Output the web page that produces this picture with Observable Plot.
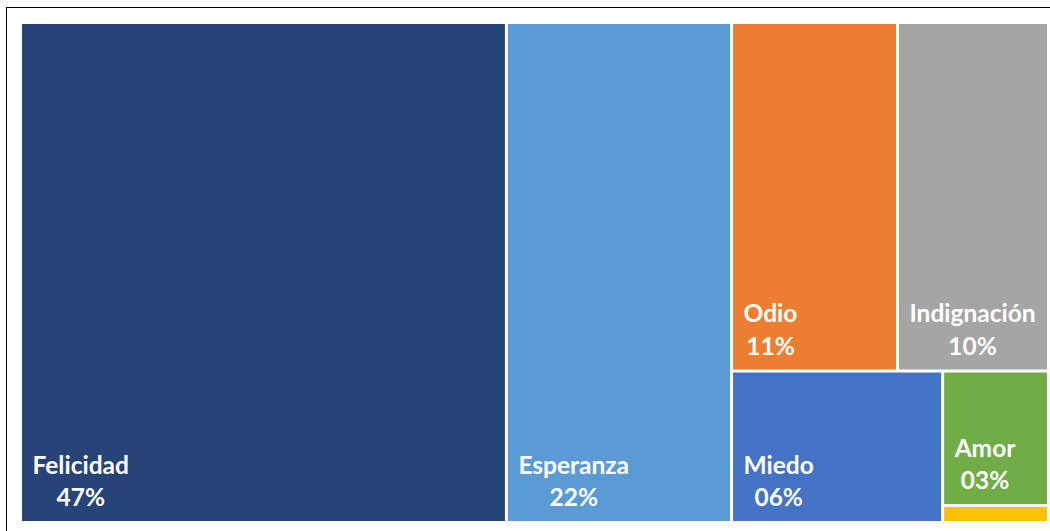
<!DOCTYPE html>
<html>
<head>
<meta charset="utf-8">
<script src="https://cdn.jsdelivr.net/npm/d3@7"></script>
<script src="https://cdn.jsdelivr.net/npm/@observablehq/plot@0.6"></script>
<style>
  html, body { margin: 0; padding: 0; background: #fff; overflow: hidden; }
  #wrap { position: relative; width: 1050px; height: 531px; }
  #frame { position: absolute; left: 5.5px; top: 7.2px; width: 2000px; height: 2000px;
           border-top: 1.6px solid #000; border-left: 1.6px solid #000; pointer-events: none; }
</style>
</head>
<body>
<div id="wrap"><div id="frame"></div></div>
<script>
// ---- data ----
const names  = ["Felicidad", "Esperanza", "Odio", "Indignación", "Miedo", "Amor", "Otros"];
const values = [47.27, 21.9, 11.25, 10.24, 6.22, 2.77, 0.35];
const colors = ["#264478", "#5B9BD5", "#ED7D31", "#A5A5A5", "#4472C4", "#70AD47", "#FFC000"];
const showLabel = [true, true, true, true, true, true, false];

// nesting of the tiles (indices into the arrays above)
const nesting = [0, 1, [[2, 3], [4, [5, 6]]]];

// ---- layout ----
const width = 1050, height = 531;
const mL = 20.5, mT = 22.5, mR = 1.5, mB = 8.5;
const W = width - mL - mR, H = height - mT - mB;

function build(n) {
  if (Array.isArray(n)) return {children: n.map(build)};
  return {name: names[n], value: values[n], label: showLabel[n]};
}
const root = d3.hierarchy(build(nesting)).sum(d => d.value || 0);
d3.treemap().tile(d3.treemapSliceDice).size([W, H]).round(false)(root);
const leaves = root.leaves();

const fontSize = 24.5;
const fontFamily = "Lato";
const ctx = document.createElement("canvas").getContext("2d");
ctx.font = `bold ${fontSize}px ${fontFamily}`;
const textW = s => ctx.measureText(s).width;

const labeled = leaves.filter(d => d.data.label);
const fmt = d3.format("02.0f");

const chart = Plot.plot({
  width, height,
  marginLeft: mL, marginTop: mT, marginRight: mR, marginBottom: mB,
  x: {domain: [0, W], axis: null},
  y: {domain: [0, H], reverse: true, axis: null},
  color: {domain: names, range: colors},
  style: {fontFamily, background: "transparent"},
  marks: [
    Plot.rect(leaves, {
      x1: d => d.x0, x2: d => d.x1, y1: d => d.y0, y2: d => d.y1,
      fill: d => d.data.name, inset: 1.5
    }),
    Plot.text(labeled, {
      x: d => d.x0, y: d => d.y1, text: d => d.data.name,
      textAnchor: "start", lineAnchor: "bottom", dx: 11.5, dy: -49.5,
      fill: "white", fontWeight: "bold", fontSize, fontFamily
    }),
    Plot.text(labeled, {
      x: d => d.x0 + textW(d.data.name) / 2, y: d => d.y1,
      text: d => fmt(d.data.value) + "%",
      textAnchor: "middle", lineAnchor: "bottom", dx: 11.5, dy: -17,
      fill: "white", fontWeight: "bold", fontSize, fontFamily
    })
  ]
});
document.getElementById("wrap").prepend(chart);
</script>
</body>
</html>
